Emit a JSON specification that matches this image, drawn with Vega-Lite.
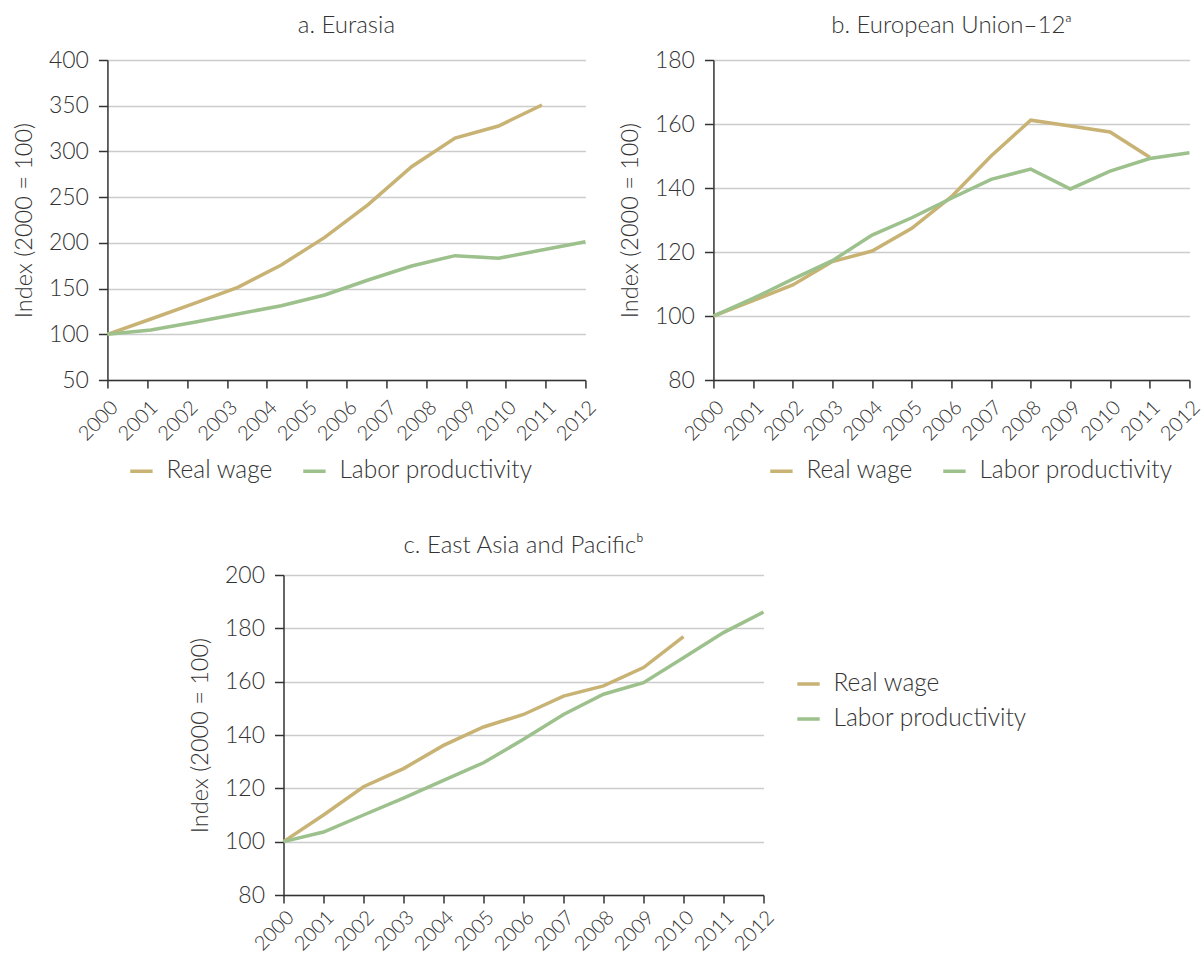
{
  "$schema": "https://vega.github.io/schema/vega-lite/v6.json",
  "background": "white",
  "padding": {"left": 12, "top": 14, "right": 5, "bottom": 0},
  "config": {
    "view": {"stroke": null},
    "font": "Lato",
    "axis": {"labelFont": "Lato", "labelFontWeight": 300, "labelFontSize": 23, "labelColor": "#333333", "titleFont": "Lato", "titleFontSize": 23.5, "titleFontWeight": 300, "titleColor": "#333333", "domainColor": "#333333", "tickColor": "#333333", "gridColor": "#cccccc", "gridWidth": 1.5, "domainWidth": 1.5, "tickWidth": 1.5, "labelOverlap": false},
    "axisX": {"grid": false, "labelAngle": -45, "labelAlign": "right", "labelBaseline": "top", "labelFontSize": 20, "tickSize": 8, "labelPadding": 9},
    "axisY": {"tickSize": 9, "labelPadding": 10, "titlePadding": 12},
    "title": {"font": "Lato", "fontSize": 24, "fontWeight": 300, "color": "#333333", "frame": "group", "anchor": "middle", "offset": 11},
    "legend": {"title": null, "symbolType": "stroke", "symbolSize": 500, "symbolStrokeWidth": 4, "labelFont": "Lato", "labelFontWeight": 300, "labelFontSize": 24.5, "labelColor": "#333333", "labelOffset": 12, "labelLimit": 0, "columnPadding": 22, "rowPadding": 10, "orient": "none"},
    "line": {"strokeWidth": 3.5}
  },
  "datasets": {
    "eurasia": [
      {"series": "Real wage", "year": 2000, "value": 100},
      {"series": "Real wage", "year": 2001.091, "value": 116.7},
      {"series": "Real wage", "year": 2002.182, "value": 133.9},
      {"series": "Real wage", "year": 2003.273, "value": 151.4},
      {"series": "Real wage", "year": 2004.364, "value": 175.8},
      {"series": "Real wage", "year": 2005.455, "value": 206},
      {"series": "Real wage", "year": 2006.545, "value": 241.8},
      {"series": "Real wage", "year": 2007.636, "value": 283.3},
      {"series": "Real wage", "year": 2008.727, "value": 314.7},
      {"series": "Real wage", "year": 2009.818, "value": 327.8},
      {"series": "Real wage", "year": 2010.909, "value": 350.8},
      {"series": "Labor productivity", "year": 2000, "value": 100},
      {"series": "Labor productivity", "year": 2001.091, "value": 104.7},
      {"series": "Labor productivity", "year": 2002.182, "value": 113.1},
      {"series": "Labor productivity", "year": 2003.273, "value": 122.2},
      {"series": "Labor productivity", "year": 2004.364, "value": 131.3},
      {"series": "Labor productivity", "year": 2005.455, "value": 143},
      {"series": "Labor productivity", "year": 2006.545, "value": 159.4},
      {"series": "Labor productivity", "year": 2007.636, "value": 174.7},
      {"series": "Labor productivity", "year": 2008.727, "value": 186},
      {"series": "Labor productivity", "year": 2009.818, "value": 183.1},
      {"series": "Labor productivity", "year": 2010.909, "value": 192.2},
      {"series": "Labor productivity", "year": 2012, "value": 201.3}
    ],
    "eu": [
      {"series": "Real wage", "year": 2000, "value": 100},
      {"series": "Real wage", "year": 2001, "value": 104.8},
      {"series": "Real wage", "year": 2002, "value": 109.7},
      {"series": "Real wage", "year": 2003, "value": 117},
      {"series": "Real wage", "year": 2004, "value": 120.3},
      {"series": "Real wage", "year": 2005, "value": 127.4},
      {"series": "Real wage", "year": 2006, "value": 137.3},
      {"series": "Real wage", "year": 2007, "value": 150},
      {"series": "Real wage", "year": 2008, "value": 161.2},
      {"series": "Real wage", "year": 2009, "value": 159.4},
      {"series": "Real wage", "year": 2010, "value": 157.5},
      {"series": "Real wage", "year": 2011, "value": 149.6},
      {"series": "Labor productivity", "year": 2000, "value": 100},
      {"series": "Labor productivity", "year": 2001, "value": 105.5},
      {"series": "Labor productivity", "year": 2002, "value": 111.5},
      {"series": "Labor productivity", "year": 2003, "value": 117.3},
      {"series": "Labor productivity", "year": 2004, "value": 125.3},
      {"series": "Labor productivity", "year": 2005, "value": 130.7},
      {"series": "Labor productivity", "year": 2006, "value": 136.8},
      {"series": "Labor productivity", "year": 2007, "value": 142.7},
      {"series": "Labor productivity", "year": 2008, "value": 145.9},
      {"series": "Labor productivity", "year": 2009, "value": 139.7},
      {"series": "Labor productivity", "year": 2010, "value": 145.3},
      {"series": "Labor productivity", "year": 2011, "value": 149.2},
      {"series": "Labor productivity", "year": 2012, "value": 151}
    ],
    "eap": [
      {"series": "Real wage", "year": 2000, "value": 100},
      {"series": "Real wage", "year": 2001, "value": 110},
      {"series": "Real wage", "year": 2002, "value": 120.6},
      {"series": "Real wage", "year": 2003, "value": 127.4},
      {"series": "Real wage", "year": 2004, "value": 136.1},
      {"series": "Real wage", "year": 2005, "value": 143},
      {"series": "Real wage", "year": 2006, "value": 147.7},
      {"series": "Real wage", "year": 2007, "value": 154.6},
      {"series": "Real wage", "year": 2008, "value": 158.4},
      {"series": "Real wage", "year": 2009, "value": 165.3},
      {"series": "Real wage", "year": 2010, "value": 176.9},
      {"series": "Labor productivity", "year": 2000, "value": 100},
      {"series": "Labor productivity", "year": 2001, "value": 103.6},
      {"series": "Labor productivity", "year": 2002, "value": 110},
      {"series": "Labor productivity", "year": 2003, "value": 116.3},
      {"series": "Labor productivity", "year": 2004, "value": 123},
      {"series": "Labor productivity", "year": 2005, "value": 129.6},
      {"series": "Labor productivity", "year": 2006, "value": 138.4},
      {"series": "Labor productivity", "year": 2007, "value": 147.7},
      {"series": "Labor productivity", "year": 2008, "value": 155.3},
      {"series": "Labor productivity", "year": 2009, "value": 159.6},
      {"series": "Labor productivity", "year": 2010, "value": 169},
      {"series": "Labor productivity", "year": 2011, "value": 178.4},
      {"series": "Labor productivity", "year": 2012, "value": 186.1}
    ]
  },
  "spacing": 51,
  "center": true,
  "resolve": {"scale": {"color": "independent"}, "legend": {"color": "independent"}},
  "vconcat": [
    {
      "spacing": 17,
      "resolve": {"scale": {"color": "independent"}, "legend": {"color": "independent"}},
      "hconcat": [
        {
          "title": "a. Eurasia",
          "width": 478,
          "height": 320,
          "data": {"name": "eurasia"},
          "mark": {"type": "line", "strokeWidth": 3.5},
          "encoding": {
            "x": {"field": "year", "type": "quantitative", "scale": {"domain": [2000, 2012], "nice": false, "zero": false}, "axis": {"title": null, "values": [2000, 2001, 2002, 2003, 2004, 2005, 2006, 2007, 2008, 2009, 2010, 2011, 2012], "format": "d"}},
            "y": {"field": "value", "type": "quantitative", "scale": {"domain": [50, 400], "nice": false, "zero": false}, "axis": {"title": "Index (2000 = 100)", "values": [50, 100, 150, 200, 250, 300, 350, 400]}},
            "color": {"field": "series", "type": "nominal", "scale": {"domain": ["Real wage", "Labor productivity"], "range": ["#C8B375", "#9DC18C"]}, "legend": {"direction": "horizontal", "legendX": 21, "legendY": 398}}
          }
        },
        {
          "title": "b. European Union–12ᵃ",
          "width": 476,
          "height": 320,
          "data": {"name": "eu"},
          "mark": {"type": "line", "strokeWidth": 3.5},
          "encoding": {
            "x": {"field": "year", "type": "quantitative", "scale": {"domain": [2000, 2012], "nice": false, "zero": false}, "axis": {"title": null, "values": [2000, 2001, 2002, 2003, 2004, 2005, 2006, 2007, 2008, 2009, 2010, 2011, 2012], "format": "d"}},
            "y": {"field": "value", "type": "quantitative", "scale": {"domain": [80, 180], "nice": false, "zero": false}, "axis": {"title": "Index (2000 = 100)", "values": [80, 100, 120, 140, 160, 180]}},
            "color": {"field": "series", "type": "nominal", "scale": {"domain": ["Real wage", "Labor productivity"], "range": ["#C8B375", "#9DC18C"]}, "legend": {"direction": "horizontal", "legendX": 55, "legendY": 398}}
          }
        }
      ]
    },
    {
      "title": {"text": "c. East Asia and Pacificᵇ", "offset": 6},
      "width": 480,
      "height": 320,
      "data": {"name": "eap"},
      "mark": {"type": "line", "strokeWidth": 3.5},
      "encoding": {
        "x": {"field": "year", "type": "quantitative", "scale": {"domain": [2000, 2012], "nice": false, "zero": false}, "axis": {"title": null, "labelPadding": 4, "values": [2000, 2001, 2002, 2003, 2004, 2005, 2006, 2007, 2008, 2009, 2010, 2011, 2012], "format": "d"}},
        "y": {"field": "value", "type": "quantitative", "scale": {"domain": [80, 200], "nice": false, "zero": false}, "axis": {"title": "Index (2000 = 100)", "values": [80, 100, 120, 140, 160, 180, 200]}},
        "color": {"field": "series", "type": "nominal", "scale": {"domain": ["Real wage", "Labor productivity"], "range": ["#C8B375", "#9DC18C"]}, "legend": {"direction": "vertical", "legendX": 512, "legendY": 96}}
      }
    }
  ]
}
